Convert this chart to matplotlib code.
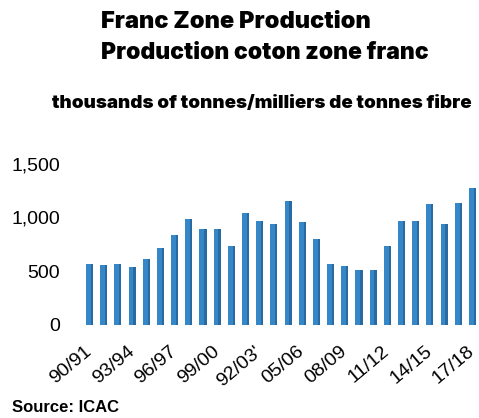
import matplotlib
matplotlib.use("Agg")
import matplotlib.pyplot as plt
import numpy as np

seasons = ["90/91", "91/92", "92/93", "93/94", "94/95", "95/96", "96/97", "97/98",
           "98/99", "99/00", "00/01", "01/02", "02/03", "03/04", "04/05", "05/06",
           "06/07", "07/08", "08/09", "09/10", "10/11", "11/12", "12/13", "13/14",
           "14/15", "15/16", "16/17", "17/18"]
production = [561, 552, 568, 540, 611, 711, 836, 986, 895, 889, 733, 1045, 967, 942,
              1154, 961, 802, 565, 543, 505, 505, 736, 964, 970, 1126, 942, 1138, 1273]
tick_labels = ["90/91", "93/94", "96/97", "99/00", "92/03'", "05/06", "08/09",
               "11/12", "14/15", "17/18"]
yticks = [0, 500, 1000, 1500]

W, H = 479, 418
fig = plt.figure(figsize=(W / 100, H / 100), dpi=100)
ax = fig.add_axes([82.5 / W, (H - 324.5) / H, 397 / W, 160.5 / H])

x = np.arange(len(production))
bw = 0.50
ax.bar(x, production, width=bw, color="#3587c8", edgecolor="none", zorder=2)
ax.bar(x + bw * 0.34, production, width=bw * 0.32, color="#2a6aa3", edgecolor="none", zorder=3)

ax.set_xlim(-0.5, len(production) - 0.5)
ax.set_ylim(0, 1500)
ax.set_yticks(yticks)
ax.set_yticklabels([f"{v:,}" for v in yticks], fontsize=14, family="Liberation Sans")
ax.set_xticks(x[::3])
ax.set_xticklabels(tick_labels, rotation=40, ha="right", va="center", rotation_mode="anchor",
                   fontsize=14, family="Liberation Sans")
ax.tick_params(axis="y", length=0, pad=16)
ax.tick_params(axis="x", length=0, pad=18)
for s in ax.spines.values():
    s.set_visible(False)

fig.text(101 / W, 1 - 22 / H, "Franc Zone Production", ha="left", va="center",
         fontsize=17, fontweight=900, family="Inter")
fig.text(101 / W, 1 - 53 / H, "Production coton zone franc", ha="left", va="center",
         fontsize=16.5, fontweight=900, family="Inter")
fig.text(52 / W, 1 - 104 / H, "thousands of tonnes/milliers de tonnes fibre", ha="left",
         va="center", fontsize=13.5, fontweight=900, family="Inter")
fig.text(12 / W, 1 - 407 / H, "Source: ICAC", ha="left", va="center",
         fontsize=12, fontweight="bold", family="Liberation Sans")

fig.savefig("out.png", dpi=100)
